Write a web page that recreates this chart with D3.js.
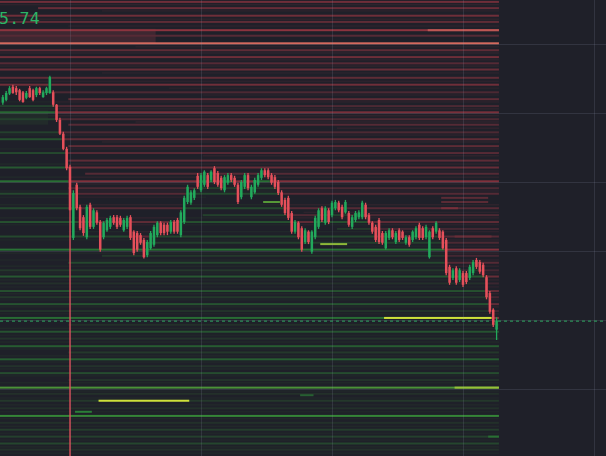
<!DOCTYPE html>
<html><head><meta charset="utf-8">
<script src="https://cdn.jsdelivr.net/npm/d3@7"></script>
<style>html,body{margin:0;padding:0;background:#1f2029;overflow:hidden}</style>
</head><body><svg id="c" width="606" height="456"></svg>
<script>
// ---- candle data (price) ----
const candleOpen = [
2531.5,2531.9,2532.8,2533.8,2533.6,2533.3,2533.0,2532.2,2533.6,2533.3,
2532.6,2533.6,2532.3,2532.9,2532.9,2533.0,2531.2,2529.0,2527.0,2524.8,
2522.2,2511.9,2519.6,2516.4,2514.9,2512.0,2516.7,2513.5,2515.6,2514.2,
2512.0,2513.0,2513.5,2514.9,2514.9,2514.8,2513.0,2513.5,2514.9,2512.8,
2512.6,2512.3,2511.6,2509.4,2510.4,2510.9,2512.3,2514.1,2513.8,2513.8,
2512.8,2514.2,2514.5,2512.3,2514.2,2517.1,2517.0,2517.7,2520.9,2518.8,
2519.6,2521.0,2520.3,2522.0,2521.3,2520.6,2518.8,2519.9,2521.0,2520.6,
2519.6,2517.8,2519.3,2521.0,2517.8,2518.5,2519.6,2520.6,2521.7,2521.7,
2521.0,2520.7,2520.0,2518.5,2517.4,2517.7,2515.5,2512.8,2514.1,2513.3,
2511.3,2512.8,2509.9,2512.0,2513.5,2516.2,2514.1,2515.9,2515.2,2516.2,
2517.0,2516.4,2515.6,2515.5,2513.5,2514.5,2514.9,2514.9,2516.7,2515.2,
2514.1,2513.5,2514.5,2512.6,2510.4,2511.9,2513.0,2511.3,2513.0,2512.8,
2511.2,2512.0,2511.6,2512.0,2513.8,2513.3,2512.0,2509.1,2513.3,2512.8,
2513.0,2512.8,2511.6,2507.7,2506.1,2507.5,2505.8,2506.8,2506.8,2506.1,
2506.8,2508.7,2508.4,2508.0,2506.2,2503.9,2501.5,2498.6];
const candleHigh = [
2532.6,2533.2,2533.9,2534.1,2533.9,2533.5,2533.2,2533.2,2533.9,2533.5,
2533.8,2533.8,2533.3,2533.8,2535.4,2533.3,2531.3,2529.3,2527.3,2525.1,
2522.5,2518.8,2519.9,2516.7,2515.2,2516.7,2517.0,2516.2,2515.9,2514.5,
2514.3,2514.8,2515.1,2515.2,2515.2,2515.1,2514.8,2515.1,2515.2,2513.0,
2512.9,2512.6,2511.9,2511.6,2512.9,2513.8,2514.3,2514.3,2514.1,2514.1,
2514.5,2514.5,2514.8,2515.9,2518.0,2519.6,2518.8,2519.1,2521.3,2521.3,
2521.7,2521.3,2521.7,2522.3,2521.6,2520.9,2521.0,2521.3,2521.3,2520.9,
2519.9,2520.3,2521.3,2521.3,2519.6,2520.6,2521.3,2522.0,2522.0,2522.0,
2521.3,2521.0,2520.3,2518.8,2517.7,2518.0,2515.8,2514.5,2514.3,2513.6,
2513.3,2513.0,2513.0,2515.1,2516.2,2516.5,2516.5,2516.2,2517.3,2517.4,
2517.3,2516.7,2517.4,2515.8,2515.2,2515.8,2515.9,2517.3,2517.0,2515.5,
2514.3,2513.8,2514.8,2512.9,2512.9,2513.3,2513.3,2512.9,2513.3,2513.0,
2512.3,2512.3,2513.0,2513.6,2514.1,2513.6,2513.8,2513.0,2513.6,2514.3,
2513.3,2513.0,2511.9,2508.0,2507.5,2507.8,2507.5,2507.1,2507.1,2508.0,
2508.7,2509.0,2508.7,2508.3,2506.5,2504.2,2501.7,2500.4];
const candleLow = [
2531.2,2531.7,2532.6,2532.8,2532.6,2531.7,2531.5,2532.0,2532.2,2531.7,
2532.3,2532.6,2532.2,2532.6,2532.8,2530.9,2528.7,2526.8,2524.6,2521.7,
2478.3,2511.6,2515.9,2513.0,2512.2,2511.7,2513.2,2513.2,2513.8,2509.9,
2511.7,2512.8,2513.2,2513.8,2513.2,2513.5,2512.8,2513.2,2511.6,2509.4,
2509.9,2510.9,2508.9,2509.1,2510.2,2510.6,2512.0,2512.3,2512.3,2512.3,
2512.5,2512.5,2512.5,2512.0,2513.9,2516.8,2516.7,2517.4,2519.0,2518.5,
2519.3,2519.0,2520.0,2519.7,2519.3,2518.8,2518.5,2519.6,2520.0,2519.3,
2516.8,2517.5,2519.0,2518.8,2517.5,2518.3,2519.3,2520.3,2520.7,2520.4,
2519.6,2519.0,2518.1,2516.4,2515.2,2514.5,2512.5,2512.5,2511.7,2509.9,
2511.0,2511.0,2509.6,2511.7,2513.2,2514.2,2513.8,2513.9,2514.9,2515.9,
2515.6,2514.6,2515.4,2513.5,2513.2,2514.2,2514.6,2514.6,2514.6,2513.8,
2512.5,2511.3,2511.0,2510.9,2510.2,2511.6,2511.7,2511.0,2511.3,2511.6,
2510.9,2510.6,2511.3,2511.7,2511.6,2511.6,2511.7,2508.9,2511.7,2512.5,
2511.6,2510.2,2506.5,2505.1,2505.8,2505.1,2505.5,2504.8,2505.2,2505.8,
2506.5,2507.4,2506.7,2506.2,2503.0,2500.9,2499.0,2497.1];
const candleClose = [
2532.3,2532.9,2533.6,2532.9,2533.0,2531.9,2531.6,2532.9,2532.3,2531.9,
2533.6,2532.9,2533.0,2533.6,2535.2,2531.2,2529.0,2527.0,2524.8,2522.0,
2515.9,2518.4,2516.2,2513.3,2512.6,2516.4,2513.5,2515.9,2514.1,2510.2,
2514.1,2514.5,2514.8,2514.1,2513.5,2513.8,2514.5,2514.8,2511.9,2509.7,
2510.2,2511.2,2509.1,2511.3,2512.6,2513.5,2514.1,2512.6,2512.6,2512.8,
2514.2,2512.8,2512.8,2515.6,2517.7,2519.3,2518.5,2518.8,2519.3,2521.0,
2521.5,2519.3,2521.5,2520.0,2519.6,2519.1,2520.7,2521.0,2520.3,2519.6,
2517.1,2520.0,2521.0,2519.1,2519.3,2520.3,2521.0,2521.7,2521.0,2520.7,
2519.9,2519.3,2518.4,2516.7,2515.5,2514.8,2512.8,2514.2,2512.0,2510.2,
2513.0,2511.3,2512.8,2514.8,2515.9,2514.5,2516.2,2514.2,2517.0,2517.1,
2515.9,2514.9,2517.1,2513.8,2514.9,2515.5,2515.6,2517.0,2514.9,2514.1,
2512.8,2511.6,2511.3,2511.2,2512.6,2513.0,2512.0,2512.6,2511.6,2511.9,
2512.0,2510.9,2512.8,2513.3,2511.9,2511.9,2513.5,2512.8,2512.0,2514.1,
2511.9,2510.4,2506.8,2505.4,2507.2,2505.4,2507.2,2505.1,2505.5,2507.7,
2508.4,2507.7,2507.0,2506.5,2503.3,2501.2,2499.3,2499.9];

// ---- order book levels: [price, size 0..1, fromCandle, toCandle] ----
const bookLevels = [
[2546.1,0.5,0,147],[2545.2,0.45,11,147],[2544.1,0.5,0,147],[2543.2,0.4,0,147],
[2542.0,0.66,0,147],[2541.2,0.35,0,147],[2540.1,0.93,0,147],[2539.1,0.4,0,147],
[2538.1,0.5,0,147],[2537.2,0.35,0,147],[2536.3,0.45,0,147],[2535.1,0.4,0,147],
[2534.1,0.5,0,147],[2533.0,0.3,10,147],[2532.0,0.4,20,147],[2531.0,0.3,0,147],
[2530.1,0.55,0,147],[2529.1,0.3,0,147],[2528.3,0.35,20,147],[2527.2,0.3,0,147],
[2526.2,0.4,0,147],[2525.2,0.4,20,147],[2524.2,0.35,0,147],[2523.1,0.4,20,147],
[2522.1,0.45,0,147],[2521.2,0.35,25,147],[2520.1,0.6,0,147],[2519.1,0.3,20,147],
[2518.3,0.35,0,147],[2516.2,0.35,0,147],[2515.2,0.3,60,147],[2514.2,0.4,0,147],
[2513.2,0.25,100,147],[2512.1,0.35,0,147],[2511.2,0.3,40,147],[2510.2,0.62,0,147],
[2509.3,0.25,30,147],[2508.3,0.35,20,147],[2507.2,0.25,0,147],[2506.3,0.45,0,147],
[2505.3,0.2,0,147],[2504.2,0.4,0,147],[2503.3,0.25,0,147],[2502.3,0.42,0,147],
[2501.3,0.22,0,147],[2500.3,0.58,0,147],[2499.3,0.2,20,147],[2498.3,0.42,0,147],
[2497.3,0.22,0,147],[2496.2,0.48,0,147],[2495.3,0.25,20,147],[2494.3,0.48,0,147],
[2493.3,0.22,0,147],[2492.3,0.38,0,147],[2491.3,0.22,20,147],[2490.2,0.76,0,147],
[2489.3,0.2,0,147],[2488.3,0.25,0,147],[2487.2,0.2,0,147],[2486.1,0.72,0,147],
[2485.1,0.2,0,147],[2484.1,0.28,0,147],[2483.1,0.3,0,147],[2482.1,0.34,0,147],
[2481.2,0.2,0,147],
// large resting orders / short-lived walls
[2488.3,1.0,29,55],[2500.3,1.0,114,145],[2511.0,0.88,95,102],[2517.1,0.78,78,82],
[2486.7,0.7,22,26],[2489.1,0.5,89,92],[2490.2,0.9,135,147],[2483.1,0.6,145,147],
[2517.7,0.38,131,144],[2517.1,0.38,131,144],[2516.2,0.55,131,135],[2512.1,0.45,135,145],
[2542.0,0.85,127,147]
];
const faintLevels = [
[2545.7,0.16,0,147],[2544.8,0.14,30,147],[2543.6,0.18,0,147],[2542.6,0.15,20,147],
[2539.6,0.15,40,147],[2538.7,0.18,0,147],[2537.7,0.15,60,147],[2536.8,0.18,0,147],
[2535.8,0.15,30,147],[2534.6,0.15,0,147],[2533.6,0.14,50,147],[2532.6,0.12,60,147],
[2531.6,0.15,0,147],[2530.6,0.2,0,147],[2529.6,0.18,0,147],[2528.7,0.18,40,147],
[2527.8,0.2,100,147],[2526.8,0.15,0,147],[2525.8,0.18,30,147],[2524.8,0.15,0,147],
[2523.8,0.18,60,147],[2522.6,0.18,0,147],[2521.6,0.15,80,147],[2520.7,0.18,0,147],
[2519.7,0.15,20,147],[2518.7,0.15,0,147],[2517.8,0.15,0,60],[2516.7,0.18,0,147],
[2515.6,0.15,90,147],[2514.8,0.18,0,147],[2513.8,0.15,0,147],[2512.8,0.15,20,147],
[2511.6,0.15,0,147],[2510.7,0.15,100,147],[2509.7,0.18,0,147],[2508.7,0.15,0,147],
[2507.8,0.2,0,147],[2506.8,0.15,0,147],[2505.8,0.18,0,147],[2504.8,0.15,0,147],
[2503.8,0.18,0,147],[2502.9,0.15,0,147],[2501.9,0.18,0,147],[2500.9,0.15,0,147],
[2498.8,0.18,0,147],[2497.8,0.15,0,147],[2496.8,0.18,0,147],[2495.8,0.15,0,147],
[2494.8,0.18,0,147],[2493.9,0.15,0,147],[2492.9,0.18,0,147],[2491.9,0.15,0,147],
[2490.9,0.18,0,147],[2489.7,0.15,0,147],[2488.7,0.15,0,147],[2487.7,0.18,0,147],
[2486.7,0.15,0,147],[2485.7,0.15,0,147],[2484.6,0.18,0,147],[2483.6,0.15,0,147],
[2482.6,0.15,0,147],[2481.6,0.18,0,147],[2480.7,0.15,0,147]
];
// bands: [priceHigh, priceLow, size, fromCandle, toCandle]
const bookBands = [[2542.2,2540.0,0.22,0,45],[2530.4,2528.3,0.14,0,13]];

const priceTicks = [2480,2490,2500,2510,2520,2530,2540];
const timeTicks = [20,59,98,137,176];
const lastLabel = "5.74";

// ---- drawing ----
const W = 606, H = 456, bg = "#1f2029";
const svg = d3.select("#c");
const step = 3.359;
const x = d3.scaleLinear().domain([0,147]).range([2.82, 2.82 + 147*step]);
const y = d3.scaleLinear().domain([2480,2540]).range([458,44]);
const askColor = d3.scaleLinear().domain([0,0.2,0.7,1]).range([bg,"#3a2630","#93343f","#e87a68"]).clamp(true);
const bidColor = d3.scaleLinear().domain([0,0.2,0.7,1]).range([bg,"#23302a","#2a7f37","#cfe03a"]).clamp(true);

svg.append("rect").attr("width",W).attr("height",H).attr("fill",bg);

const segStart = i => i === 0 ? -3 : x(i - 0.5);
const segEnd = i => i === 147 ? x(147.7) : x(i + 0.5);

function runs(price, from, to){
  const out = [];
  let s = from, side = price > candleClose[from];
  for (let i = from + 1; i <= to + 1; i++){
    const sd = i <= to ? price > candleClose[i] : null;
    if (i > to || sd !== side){ out.push({a:s, b:i-1, ask:side}); s = i; side = sd; }
  }
  return out;
}
const heat = svg.append("g");
bookBands.forEach(([hi,lo,sz,f,t])=>{
  runs((hi+lo)/2,f,t).forEach(r=>{
    heat.append("rect").attr("x",segStart(r.a)).attr("width",segEnd(r.b)-segStart(r.a))
      .attr("y",y(hi)).attr("height",y(lo)-y(hi))
      .attr("fill",r.ask?askColor(sz):bidColor(sz));
  });
});
function drawLevels(list, h, scale){
  list.forEach(([p,sz,f,t])=>{
    runs(p,f,t).forEach(r=>{
      heat.append("rect").attr("x",segStart(r.a)).attr("width",segEnd(r.b)-segStart(r.a))
        .attr("y",y(p)-h/2).attr("height",h)
        .attr("fill",r.ask?askColor(sz*scale):bidColor(sz*scale));
    });
  });
}
drawLevels(faintLevels,1.4,0.7);
drawLevels(bookLevels,2,1);

// grid
const grid = svg.append("g").attr("stroke","rgba(150,155,175,0.17)").attr("stroke-width",1);
priceTicks.forEach(p=>grid.append("line").attr("x1",0).attr("x2",W).attr("y1",Math.round(y(p))+0.5).attr("y2",Math.round(y(p))+0.5));
timeTicks.forEach(t=>grid.append("line").attr("y1",0).attr("y2",H).attr("x1",Math.round(x(t))+0.5).attr("x2",Math.round(x(t))+0.5));

// last price dashed line
const lastY = y(candleClose[147]);
svg.append("line").attr("x1",0).attr("x2",W).attr("y1",lastY+0.5).attr("y2",lastY+0.5)
  .attr("stroke","#2d8f57").attr("stroke-width",1.2).attr("stroke-dasharray","3,3");

// candles
const up = "#22a95c", down = "#e5505a";
const cg = svg.append("g");
d3.range(148).forEach(i=>{
  const o=candleOpen[i], c=candleClose[i], col = c>=o?up:down, cx = x(i);
  cg.append("line").attr("x1",cx).attr("x2",cx).attr("y1",y(candleHigh[i])).attr("y2",y(candleLow[i]))
    .attr("stroke",col).attr("stroke-width",1.3);
  const top = y(Math.max(o,c)), bot = y(Math.min(o,c));
  cg.append("rect").attr("x",cx-1.25).attr("width",2.5).attr("y",top).attr("height",Math.max(1,bot-top)).attr("fill",col);
});

// price label
svg.append("text").attr("x",-1).attr("y",24).attr("fill","#2bb566")
  .attr("font-family","DejaVu Sans Mono, monospace").attr("font-size",16.5)
  .attr("letter-spacing",0.3).text(lastLabel);
</script></body></html>
